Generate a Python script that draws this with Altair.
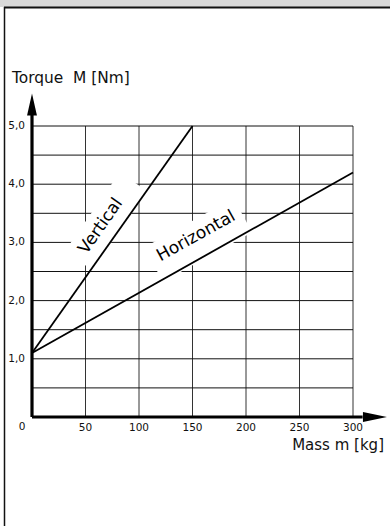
import altair as alt
import pandas as pd

# Torque vs. mass for the two mounting positions
mass_kg = [0, 150, 0, 300]
torque_nm = [1.1, 5.0, 1.1, 4.2]
mounting = ["Vertical", "Vertical", "Horizontal", "Horizontal"]

# Grid and tick values
grid_x = [50, 100, 150, 200, 250, 300]
grid_y = [0.5, 1.0, 1.5, 2.0, 2.5, 3.0, 3.5, 4.0, 4.5, 5.0]
y_ticks = [1, 2, 3, 4, 5]
y_tick_text = ["1,0", "2,0", "3,0", "4,0", "5,0"]
x_ticks = [50, 100, 150, 200, 250, 300]

# In-plot line labels (anchor point and text angle)
label_text = ["Vertical", "Horizontal"]
label_x = [64.2, 153.3]
label_y = [3.28, 3.11]
label_angle = [305, 331]
# White boxes that knock the grid out behind the labels
halo_x = [69.1, 155.3]
halo_y = [3.366, 3.043]
halo_size = [9216, 10404]
halo_shape = [
    "M-1,-0.344L1,-0.344L1,0.344L-1,0.344Z",
    "M-1,-0.382L1,-0.382L1,0.382L-1,0.382Z",
]

FONT = "DejaVu Sans"
W, H = 321, 291

xs = alt.Scale(domain=[0, 300], nice=False, zero=False)
ys = alt.Scale(domain=[0, 5], nice=False, zero=False)
X = lambda f: alt.X(f, type="quantitative", scale=xs, axis=None)
Y = lambda f: alt.Y(f, type="quantitative", scale=ys, axis=None)

lines_df = pd.DataFrame({"m": mass_kg, "M": torque_nm, "mount": mounting})

# page frame: grey header strip, rule under it, left border
one = pd.DataFrame({"k": [0]})
header = alt.Chart(one).mark_rect(color="#d9d9d9").encode(
    x=alt.value(-32), x2=alt.value(W + 37), y=alt.value(-126), y2=alt.value(-119)
)
header_rule = alt.Chart(one).mark_rule(color="#111", strokeWidth=2).encode(
    x=alt.value(-28), x2=alt.value(W + 37), y=alt.value(-118.5)
)
left_rule = alt.Chart(one).mark_rule(color="#111", strokeWidth=1.5).encode(
    x=alt.value(-27.5), y=alt.value(-119), y2=alt.value(H + 109)
)

vgrid = alt.Chart(pd.DataFrame({"gx": grid_x, "y0": 0.0, "y1": 5.0})).mark_rule(
    color="#333", strokeWidth=1
).encode(x=X("gx"), y=Y("y0"), y2="y1")
hgrid = alt.Chart(pd.DataFrame({"gy": grid_y, "x0": 0.0, "x1": 300.0})).mark_rule(
    color="#111", strokeWidth=1
).encode(y=Y("gy"), x=X("x0"), x2="x1")

halos = [
    alt.Chart(pd.DataFrame({"hx": [hx], "hy": [hy]})).mark_point(
        shape=shp, size=s, angle=a, filled=True, color="white", opacity=1, strokeWidth=0
    ).encode(x=X("hx"), y=Y("hy"))
    for hx, hy, s, a, shp in zip(halo_x, halo_y, halo_size, label_angle, halo_shape)
]

curves = alt.Chart(lines_df).mark_line(color="black", strokeWidth=1.8).encode(
    x=X("m"), y=Y("M"), detail="mount:N"
)

labels = alt.Chart(pd.DataFrame({"t": label_text, "lx": label_x, "ly": label_y, "a": label_angle})).mark_text(
    font=FONT, fontSize=17, color="black", align="center", baseline="middle"
).encode(x=X("lx"), y=Y("ly"), text="t:N", angle=alt.Angle("a:Q", scale=None))

# thick axes with arrow heads
x_axis = alt.Chart(pd.DataFrame({"a0": [0.0], "a1": [309.0], "b": [0.0]})).mark_rule(
    color="black", strokeWidth=3.2
).encode(x=X("a0"), x2="a1", y=Y("b"))
y_axis = alt.Chart(pd.DataFrame({"a0": [0.0], "a1": [5.2], "b": [0.0]})).mark_rule(
    color="black", strokeWidth=3.2
).encode(y=Y("a0"), y2="a1", x=X("b"))
x_arrow = alt.Chart(pd.DataFrame({"ax": [320.5], "ay": [0.0]})).mark_point(
    shape="M-1,-0.42L1,0L-1,0.42Z", filled=True, color="black", opacity=1, size=576, strokeWidth=0
).encode(x=X("ax"), y=Y("ay"))
y_arrow = alt.Chart(pd.DataFrame({"ax": [0.0], "ay": [5.37]})).mark_point(
    shape="M-0.45,1L0,-1L0.45,1Z", filled=True, color="black", opacity=1, size=484, strokeWidth=0
).encode(x=X("ax"), y=Y("ay"))

ytick_labels = alt.Chart(pd.DataFrame({"v": y_ticks, "t": y_tick_text, "z": 0.0})).mark_text(
    font=FONT, fontSize=10.5, align="right", baseline="middle", dx=-7, color="#111"
).encode(x=X("z"), y=Y("v"), text="t:N")
xtick_labels = alt.Chart(pd.DataFrame({"v": x_ticks, "z": 0.0})).mark_text(
    font=FONT, fontSize=10.5, align="center", baseline="middle", dy=11, color="#111"
).encode(x=X("v"), y=Y("z"), text="v:N")
origin_label = alt.Chart(pd.DataFrame({"v": [0], "z": [0.0]})).mark_text(
    font=FONT, fontSize=10.5, align="center", baseline="middle", dx=-10, dy=10, color="#111"
).encode(x=X("v"), y=Y("z"), text="v:N")

y_title = alt.Chart(pd.DataFrame({"z": [0.0], "top": [5.0], "t": ["Torque\u00a0 M [Nm]"]})).mark_text(
    font=FONT, fontSize=15.4, align="left", baseline="middle", dx=-20, dy=-48, color="#111"
).encode(x=X("z"), y=Y("top"), text="t:N")
x_title = alt.Chart(pd.DataFrame({"r": [300.0], "z": [0.0], "t": ["Mass m [kg]"]})).mark_text(
    font=FONT, fontSize=15, align="right", baseline="middle", dx=31, dy=28, color="#111"
).encode(x=X("r"), y=Y("z"), text="t:N")

chart = alt.layer(
    header, header_rule, left_rule,
    vgrid, hgrid, *halos, labels, curves,
    x_axis, y_axis, x_arrow, y_arrow,
    ytick_labels, xtick_labels, origin_label, y_title, x_title,
).properties(
    width=W, height=H,
    autosize=alt.AutoSizeParams(type="none"),
    padding={"left": 32, "top": 126, "right": 37, "bottom": 109},
    background="white",
).configure_view(stroke=None, clip=False)

chart.save("out.html", embed_options={"renderer": "svg", "actions": False})
